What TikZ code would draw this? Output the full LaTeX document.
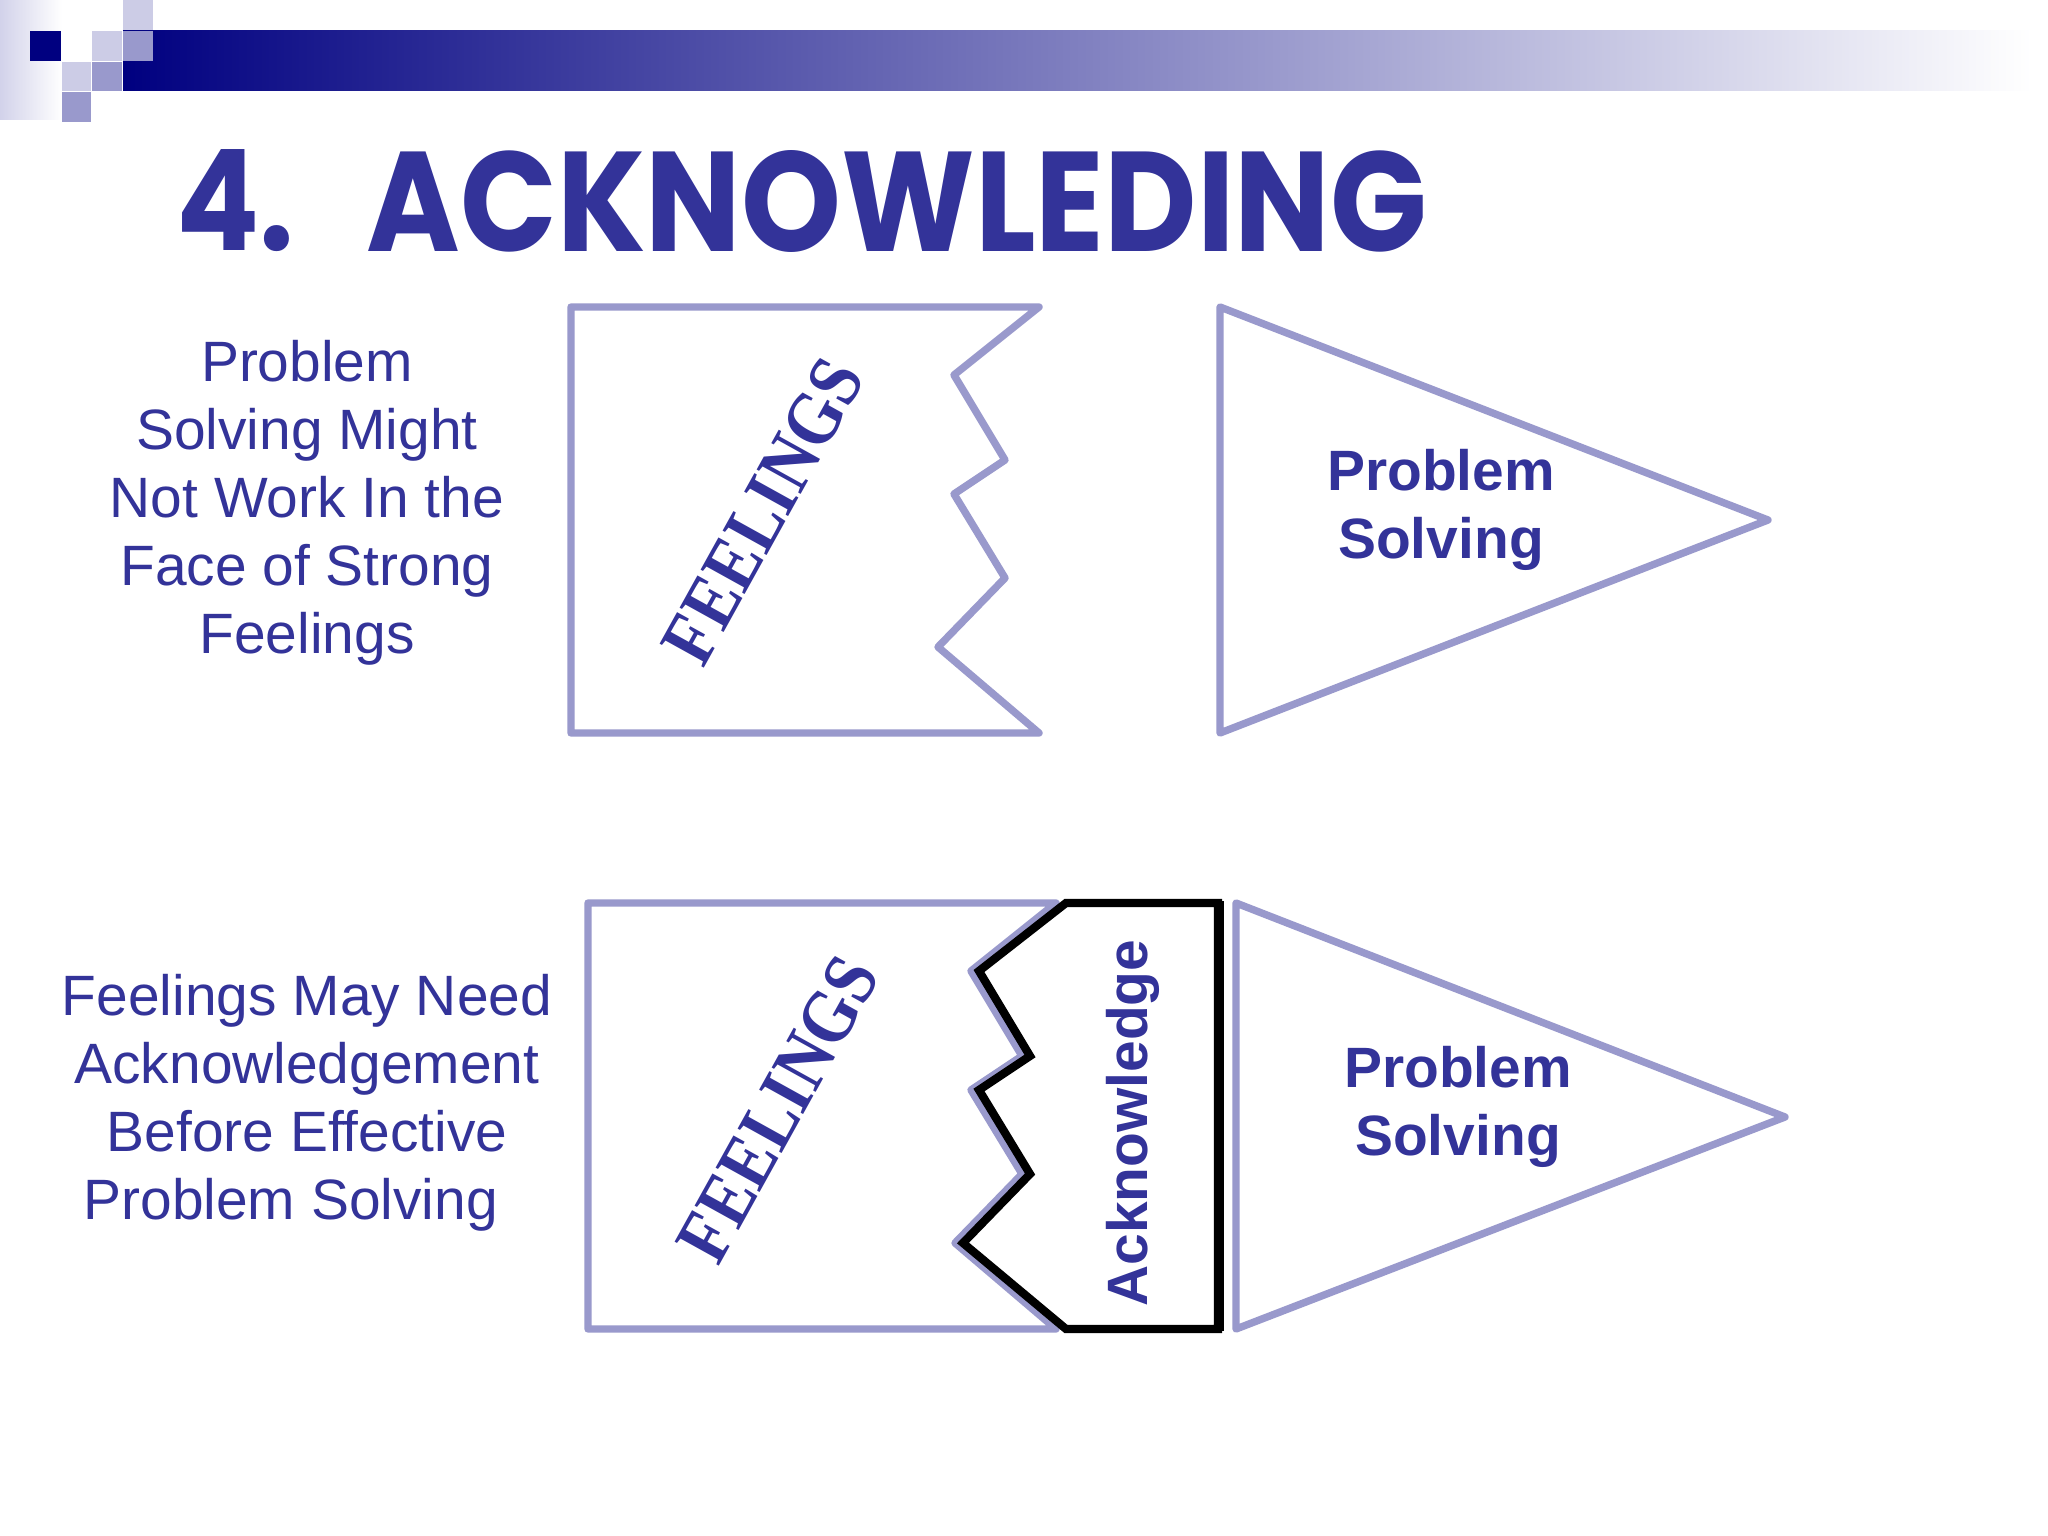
\documentclass[tikz,border=0pt]{standalone}
\usepackage{fontspec}
\setmainfont{Liberation Sans}
\newfontfamily\feelfont{Liberation Serif}
\newfontfamily\titlefont{Poppins}
\definecolor{navy}{HTML}{000080}
\definecolor{ink}{HTML}{333399}
\definecolor{lav}{HTML}{9999CC}
\definecolor{lightlav}{HTML}{CCCCE6}
\definecolor{stripcol}{HTML}{D2D2EA}
\tikzset{
  lavline/.style={draw=lav, line width=2.6bp, line join=round, line cap=round},
  blackline/.style={draw=black, line width=2.9bp, line join=miter},
  bodytext/.style={text=ink, align=center, inner sep=0pt, font=\fontsize{20bp}{23.9bp}\selectfont},
  boldtext/.style={bodytext, font=\fontsize{20bp}{23.9bp}\selectfont\bfseries},
  feeltext/.style={text=ink, inner sep=0pt, rotate=61, font=\feelfont\bfseries\fontsize{27bp}{30bp}\selectfont},
}
\begin{document}
\begin{tikzpicture}[x=0.3515625bp, y=-0.3515625bp]
\useasboundingbox (0,0) rectangle (2048,1536);
\fill[white] (0,0) rectangle (2048,1536);
% header decoration
\shade[left color=stripcol, right color=white] (0,0) rectangle (62,120);
\shade[left color=navy, right color=white] (123,31) rectangle (2032,91);
\fill[navy] (30,31) rectangle (61,61);
\fill[lightlav] (123,0) rectangle (153,30);
\fill[lightlav] (92,31) rectangle (122,61);
\fill[lav] (123,31) rectangle (153,61);
\fill[lightlav] (62,62) rectangle (91,91);
\fill[lav] (92,62) rectangle (122,91);
\fill[lav] (62,92) rectangle (91,122);
% title
\node[anchor=base west, inner sep=0pt, text=ink] (titlenum) at (176,251)
  {\resizebox{41.5bp}{35.5bp}{\titlefont\bfseries 4.}};
\node[anchor=base west, inner sep=0pt, text=ink] (titleword) at (366,251)
  {\resizebox{372.7bp}{35.5bp}{\titlefont\bfseries ACKNOWLEDING}};
% top row
\node[bodytext] (toptext) at (307,503)
  {Problem\\Solving Might\\Not Work In the\\Face of Strong\\Feelings};
\draw[lavline] (571,307) -- (1039,307) -- (954,375) -- (1005,460) -- (954,494)
  -- (1005,578) -- (938,647) -- (1039,733) -- (571,733) -- cycle;
\node[feeltext] (topfeel) at (763,511) {\scalebox{0.86}[1]{FEELINGS}};
\draw[lavline] (1220,307) -- (1768,520) -- (1220,733) -- cycle;
\node[boldtext] (topps) at (1441,510) {Problem\\Solving};
% bottom row
\node[bodytext] (bottext) at (307,1103)
  {Feelings May Need\\Acknowledgement\\Before Effective\\Problem Solving\rule{11.5bp}{0pt}};
\draw[lavline] (588,903) -- (1056,903) -- (971,971) -- (1022,1056) -- (971,1090)
  -- (1022,1174) -- (955,1243) -- (1056,1329) -- (588,1329) -- cycle;
\node[feeltext] (botfeel) at (778,1109) {\scalebox{0.86}[1]{FEELINGS}};
\draw[blackline] (1066,903) -- (1218,903) -- (1218,1329) -- (1066,1329) -- (963,1243)
  -- (1030,1174) -- (979,1090) -- (1030,1056) -- (979,971) -- cycle;
\draw[draw=black, line width=3.8bp] (1219,901) -- (1219,1331);
\node[text=ink, inner sep=0pt, rotate=90, font=\fontsize{20bp}{24bp}\selectfont\bfseries] (ack) at (1133,1123) {Acknowledge};
\draw[lavline] (1236,903) -- (1785,1117) -- (1236,1329) -- cycle;
\node[boldtext] (botps) at (1458,1107) {Problem\\Solving};
\end{tikzpicture}
\end{document}
